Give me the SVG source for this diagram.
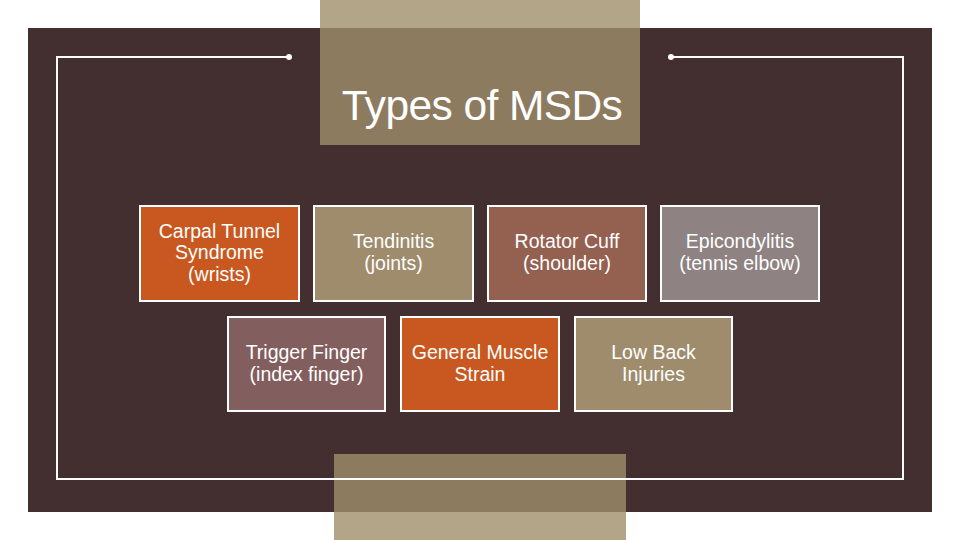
<svg xmlns="http://www.w3.org/2000/svg" width="960" height="540" viewBox="0 0 960 540">
<style>
.box{stroke:#FFFFFF;stroke-width:2}
.t{font-family:"Liberation Sans",Arial,sans-serif;font-size:19.5px;fill:#FFFFFF;text-anchor:middle}
.frame{fill:none;stroke:#FFFFFF;stroke-width:2}
</style>
<rect width="960" height="540" fill="#FFFFFF"/>
<rect x="28" y="28" width="904" height="484" fill="#432F2F"/>
<rect x="320" y="0" width="320" height="145" fill="#B3A588"/>
<rect x="320" y="28" width="320" height="117" fill="#8D7B60"/>
<rect x="334" y="454" width="292" height="86" fill="#B3A588"/>
<rect x="334" y="454" width="292" height="58" fill="#8D7B60"/>
<g id="frame">
<polyline class="frame" points="289,57 57,57 57,479 903,479 903,57 671,57"/>
<circle cx="289" cy="57" r="3" fill="#FFFFFF"/>
<circle cx="671" cy="57" r="3" fill="#FFFFFF"/>
</g>
<g id="title"><text x="482" y="120" font-family="Liberation Sans,Arial,sans-serif" font-size="42.5" fill="#FFFFFF" text-anchor="middle" letter-spacing="-0.6">Types of MSDs</text></g>
<g id="connectors"></g>
<g id="n1"><rect class="box" x="140" y="206" width="159" height="95" fill="#C8581F"/><text class="t" x="219.5" y="238">Carpal Tunnel</text><text class="t" x="219.5" y="259">Syndrome</text><text class="t" x="219.5" y="281">(wrists)</text></g>
<g id="n2"><rect class="box" x="314" y="206" width="159" height="95" fill="#9E8C6C"/><text class="t" x="393.5" y="248">Tendinitis</text><text class="t" x="393.5" y="270">(joints)</text></g>
<g id="n3"><rect class="box" x="488" y="206" width="158" height="95" fill="#946050"/><text class="t" x="567" y="248">Rotator Cuff</text><text class="t" x="567" y="270">(shoulder)</text></g>
<g id="n4"><rect class="box" x="661" y="206" width="158" height="95" fill="#8E8282"/><text class="t" x="740" y="248">Epicondylitis</text><text class="t" x="740" y="270">(tennis elbow)</text></g>
<g id="n5"><rect class="box" x="228" y="317" width="157" height="94" fill="#825E5E"/><text class="t" x="306.5" y="359">Trigger Finger</text><text class="t" x="306.5" y="381">(index finger)</text></g>
<g id="n6"><rect class="box" x="401" y="317" width="158" height="94" fill="#C8581F"/><text class="t" x="480" y="359">General Muscle</text><text class="t" x="480" y="381">Strain</text></g>
<g id="n7"><rect class="box" x="575" y="317" width="157" height="94" fill="#9E8C6C"/><text class="t" x="653.5" y="359">Low Back</text><text class="t" x="653.5" y="381">Injuries</text></g>
</svg>
